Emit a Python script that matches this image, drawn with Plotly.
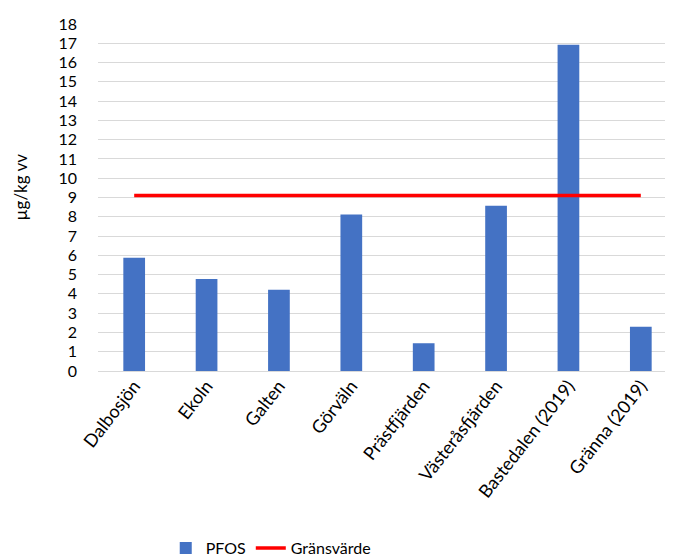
import plotly.graph_objects as go

categories = ["Dalbosjön", "Ekoln", "Galten", "Görväln", "Prästfjärden",
              "Västeråsfjärden", "Bastedalen (2019)", "Gränna (2019)"]
pfos = [5.87, 4.77, 4.22, 8.12, 1.44, 8.57, 16.92, 2.30]
limit_value = 9.1
limit = [limit_value] * len(categories)
y_ticks = list(range(0, 19))

FONT = "Lato, 'Noto Sans', sans-serif"

fig = go.Figure()
fig.add_trace(go.Bar(x=categories, y=pfos, name="PFOS",
                     marker=dict(color="#4472c4", line=dict(width=0)),
                     width=0.3))
fig.add_trace(go.Scatter(x=categories, y=limit, name="Gränsvärde", mode="lines",
                         line=dict(color="#ff0000", width=3.5)))

fig.update_layout(
    width=673, height=559,
    margin=dict(l=90, r=4, t=16, b=195),
    paper_bgcolor="white", plot_bgcolor="white",
    font=dict(family=FONT, size=18, color="#000000"),
    showlegend=True,
    legend=dict(orientation="h", x=0.117, xanchor="left", y=-0.506, yanchor="middle",
                font=dict(size=16), itemwidth=30, traceorder="normal"),
    bargap=0.7,
)
fig.update_xaxes(type="category", range=[-0.5, 7.5], tickangle=-52,
                 showgrid=False, showline=False, ticks="", automargin=False,
                 tickfont=dict(size=18))
fig.update_yaxes(range=[0, 18], tickvals=y_ticks, ticktext=[str(v) for v in y_ticks],
                 showgrid=True, gridcolor="#d9d9d9", gridwidth=1,
                 zeroline=True, zerolinecolor="#d9d9d9", zerolinewidth=1,
                 showline=False, ticks="", ticklabelstandoff=20, automargin=False,
                 tickfont=dict(size=16))
fig.add_annotation(text="µg/kg vv", textangle=-90, xref="paper", yref="paper",
                   x=-0.1347, y=0.529, xanchor="center", yanchor="middle",
                   showarrow=False, font=dict(size=17))

fig.write_html("out.html")
